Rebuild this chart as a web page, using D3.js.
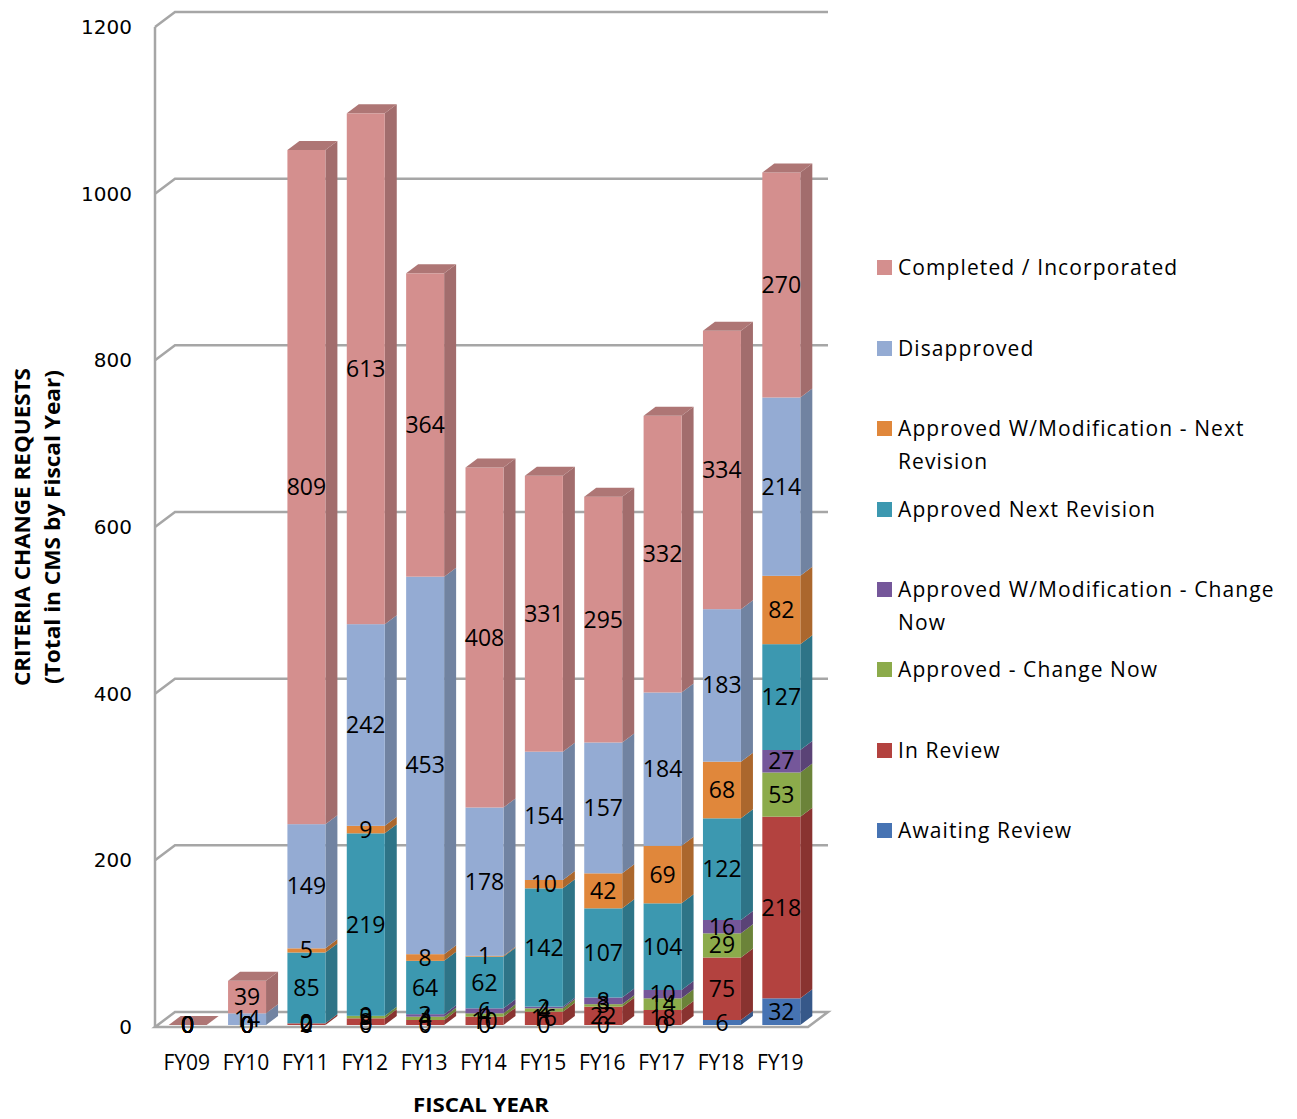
<!DOCTYPE html>
<html>
<head>
<meta charset="utf-8">
<script src="https://cdn.jsdelivr.net/npm/d3@7"></script>
<style>
body { margin: 0; background: #fff; }
text { font-family: "Open Sans", sans-serif; }
</style>
</head>
<body>
<svg id="chart" width="1297" height="1119"></svg>
<script>
// fiscal years on the x axis
var categories = ["FY09", "FY10", "FY11", "FY12", "FY13", "FY14", "FY15", "FY16", "FY17", "FY18", "FY19"];

// series, bottom of the stack first
var awaitingReview   = [0, 0, 0, 0, 0, 0, 0, 0, 0, 6, 32];
var inReview         = [0, 0, 2, 8, 6, 10, 16, 22, 18, 75, 218];
var changeNow        = [0, 0, 0, 3, 4, 4, 4, 3, 14, 29, 53];
var modChangeNow     = [0, 0, 0, 0, 3, 6, 2, 8, 10, 16, 27];
var nextRevision     = [0, 0, 85, 219, 64, 62, 142, 107, 104, 122, 127];
var modNextRevision  = [0, 0, 5, 9, 8, 1, 10, 42, 69, 68, 82];
var disapproved      = [0, 14, 149, 242, 453, 178, 154, 157, 184, 183, 214];
var completed        = [0, 39, 809, 613, 364, 408, 331, 295, 332, 334, 270];

var seriesNames = ["Awaiting Review", "In Review", "Approved - Change Now",
	"Approved W/Modification - Change Now", "Approved Next Revision",
	"Approved W/Modification - Next Revision", "Disapproved", "Completed / Incorporated"];
var seriesValues = [awaitingReview, inReview, changeNow, modChangeNow, nextRevision, modNextRevision, disapproved, completed];
var seriesColors = ["#4673b3", "#b3423f", "#8cab4b", "#75579a", "#3c98b0", "#e0873b", "#94abd3", "#d48f8e"];

var yTicks = [0, 200, 400, 600, 800, 1000, 1200];

var svg = d3.select("#chart");

var x0 = 155, x1 = 808;   // front floor edge
var wallDx = 20, wallDy = -15;  // depth of the back wall
var barDx = 12, barDy = -9;     // depth of one bar
var shiftX = 3, shiftY = -2;    // bars sit a bit behind the front edge

var y = d3.scaleLinear().domain([0, 1200]).range([1027, 27]);
var x = d3.scaleBand().domain(categories).range([x0, x1]).paddingInner(0.36).paddingOuter(0.18);

var grey = "#a6a6a6";

// floor
var g = svg.append("g");
g.append("path")
	.attr("d", "M" + x0 + "," + y(0) + "L" + x1 + "," + y(0) + "L" + (x1 + wallDx) + "," + (y(0) + wallDy) +
		"L" + (x0 + wallDx) + "," + (y(0) + wallDy) + "Z")
	.attr("fill", "#fff").attr("stroke", grey).attr("stroke-width", 2.5);

// gridlines on the back wall, with the diagonal tick on the side
yTicks.forEach(function(v){
	if(v > 0){
		g.append("path")
			.attr("d", "M" + x0 + "," + y(v) + "L" + (x0 + wallDx) + "," + (y(v) + wallDy) + "L" + (x1 + wallDx) + "," + (y(v) + wallDy))
			.attr("fill", "none").attr("stroke", grey).attr("stroke-width", 2.5);
	}
});
g.append("line").attr("x1", x0).attr("x2", x0).attr("y1", y(0)).attr("y2", y(1200))
	.attr("stroke", grey).attr("stroke-width", 2.5);

// y tick labels
g.selectAll(".ytick").data(yTicks).enter().append("text")
	.attr("x", 132).attr("y", function(d){ return y(d) + 7; })
	.attr("text-anchor", "end")
	.style("font-family", "'DejaVu Sans', sans-serif")
	.style("font-size", "20px")
	.text(function(d){ return d; });

// stacked values
var rows = categories.map(function(c, i){
	var r = {cat: c};
	seriesValues.forEach(function(s, k){ r[k] = s[i]; });
	return r;
});
var stacked = d3.stack().keys(d3.range(seriesValues.length))(rows);

var bars = svg.append("g");
categories.forEach(function(c, i){
	var bx = x(c) + shiftX, bw = x.bandwidth();
	stacked.forEach(function(layer, k){
		var d = layer[i];
		var yb = y(d[0]) + shiftY, yt = y(d[1]) + shiftY;
		var col = d3.color(seriesColors[k]);
		if(d[1] > d[0]){
			bars.append("path")
				.attr("d", "M" + (bx + bw) + "," + yt + "L" + (bx + bw + barDx) + "," + (yt + barDy) +
					"L" + (bx + bw + barDx) + "," + (yb + barDy) + "L" + (bx + bw) + "," + yb + "Z")
				.attr("fill", col.darker(0.75));
			bars.append("rect")
				.attr("x", bx).attr("y", yt).attr("width", bw).attr("height", yb - yt)
				.attr("fill", col);
		}
	});
	// top face of the whole stack
	var top = stacked[stacked.length - 1][i];
	var yt = y(top[1]) + shiftY;
	var topIdx = stacked.length - 1;
	bars.append("path")
		.attr("d", "M" + bx + "," + yt + "L" + (bx + barDx) + "," + (yt + barDy) + "L" + (bx + bw + barDx) + "," + (yt + barDy) +
			"L" + (bx + bw) + "," + yt + "Z")
		.attr("fill", d3.color(seriesColors[topIdx]).darker(0.55));
});

// data labels at the middle of each front face
var labels = svg.append("g");
stacked.forEach(function(layer, k){
	layer.forEach(function(d, i){
		labels.append("text")
			.attr("x", x(categories[i]) + shiftX + x.bandwidth() / 2)
			.attr("y", y((d[0] + d[1]) / 2) + shiftY + 8)
			.attr("text-anchor", "middle")
			.style("font-size", "23px")
			.attr("fill", "#000")
			.text(seriesValues[k][i]);
	});
});

// category labels
svg.selectAll(".xlab").data(categories).enter().append("text")
	.attr("x", function(d){ return x(d) + x.bandwidth() / 2 + 2; })
	.attr("y", 1070)
	.attr("text-anchor", "middle")
	.style("font-size", "21px")
	.text(function(d){ return d; });

// axis titles
svg.append("text")
	.attr("x", 481).attr("y", 1112)
	.attr("text-anchor", "middle")
	.style("font-size", "20px").style("font-weight", "bold")
	.attr("textLength", 136).attr("lengthAdjust", "spacingAndGlyphs")
	.text("FISCAL YEAR");

var yt1 = svg.append("g").attr("transform", "translate(30,527) rotate(-90)");
yt1.append("text").attr("x", 0).attr("y", 0).attr("text-anchor", "middle")
	.style("font-size", "21px").style("font-weight", "bold")
	.attr("textLength", 318).attr("lengthAdjust", "spacingAndGlyphs")
	.text("CRITERIA CHANGE REQUESTS");
yt1.append("text").attr("x", 0).attr("y", 30).attr("text-anchor", "middle")
	.style("font-size", "21px").style("font-weight", "bold")
	.attr("textLength", 314).attr("lengthAdjust", "spacingAndGlyphs")
	.text("(Total in CMS by Fiscal  Year)");

// legend, top entry is the top of the stack
var legendRows = [
	{k: 7, lines: ["Completed / Incorporated"], y: 267},
	{k: 6, lines: ["Disapproved"], y: 348},
	{k: 5, lines: ["Approved W/Modification - Next", "Revision"], y: 428},
	{k: 4, lines: ["Approved Next Revision"], y: 509},
	{k: 3, lines: ["Approved W/Modification - Change", "Now"], y: 589},
	{k: 2, lines: ["Approved - Change Now"], y: 669},
	{k: 1, lines: ["In Review"], y: 750},
	{k: 0, lines: ["Awaiting Review"], y: 830}
];
var legend = svg.append("g");
legendRows.forEach(function(r){
	legend.append("rect").attr("x", 877).attr("y", r.y - 7).attr("width", 15).attr("height", 15)
		.attr("fill", seriesColors[r.k]);
	r.lines.forEach(function(l, j){
		legend.append("text").attr("x", 898).attr("y", r.y + 8 + j * 33)
			.style("font-size", "21px")
			.style("letter-spacing", "1.1px")
			.text(l);
	});
});
</script>
</body>
</html>
